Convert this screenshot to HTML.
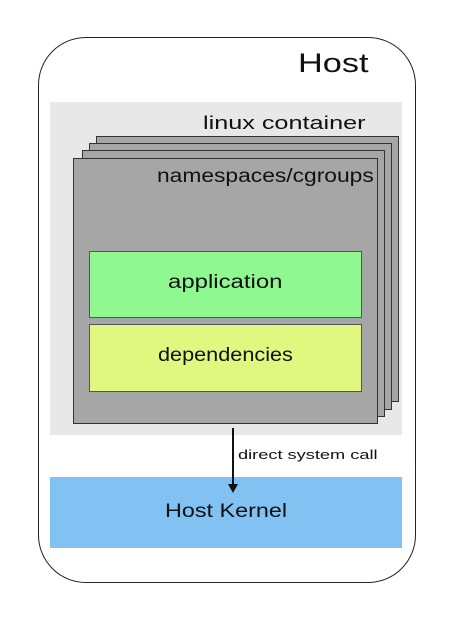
<!DOCTYPE html>
<html><head><style>
body{margin:0;width:451px;height:620px;background:#fff;position:relative;overflow:hidden;font-family:"Liberation Sans",sans-serif;}
div{position:absolute;box-sizing:border-box;}
.t{color:#111;white-space:nowrap;transform-origin:left top;}
.s{background:#a6a6a6;border:1.5px solid #333;}
</style></head><body>
<div style="left:38px;top:37px;width:378px;height:546px;border:1.5px solid #222;border-radius:48px;"></div>
<div class="t" style="left:298px;top:48px;font-size:27px;transform:scaleX(1.27);">Host</div>
<div style="left:50px;top:102px;width:352px;height:333px;background:#e8e8e8;"></div>
<div class="t" style="left:203px;top:113px;font-size:18px;transform:scaleX(1.4);">linux container</div>
<div class="s" style="left:96px;top:136px;width:303px;height:266px;"></div>
<div class="s" style="left:89px;top:143px;width:303px;height:267px;"></div>
<div class="s" style="left:82px;top:150px;width:303px;height:267px;"></div>
<div class="s" style="left:73px;top:158px;width:305px;height:266px;"></div>
<div class="t" style="left:157px;top:166px;font-size:19px;transform:scaleX(1.2);">namespaces/cgroups</div>
<div style="left:89px;top:251px;width:273px;height:67px;background:#90f890;border:1px solid #555;"></div>
<div class="t" style="left:168px;top:272px;font-size:19px;transform:scaleX(1.26);">application</div>
<div style="left:89px;top:324px;width:273px;height:68px;background:#e0f880;border:1px solid #555;"></div>
<div class="t" style="left:158px;top:345px;font-size:19px;transform:scaleX(1.14);">dependencies</div>
<div style="left:50px;top:477px;width:352px;height:71px;background:#82c2f2;"></div>
<div class="t" style="left:165px;top:501px;font-size:19px;transform:scaleX(1.23);">Host Kernel</div>
<div style="left:232px;top:428px;width:2px;height:58px;background:#111;"></div>
<div style="left:228px;top:484px;width:0;height:0;border-left:5px solid transparent;border-right:5px solid transparent;border-top:9px solid #111;"></div>
<div class="t" style="left:238px;top:447px;font-size:13px;transform:scaleX(1.4);">direct system call</div>
</body></html>
